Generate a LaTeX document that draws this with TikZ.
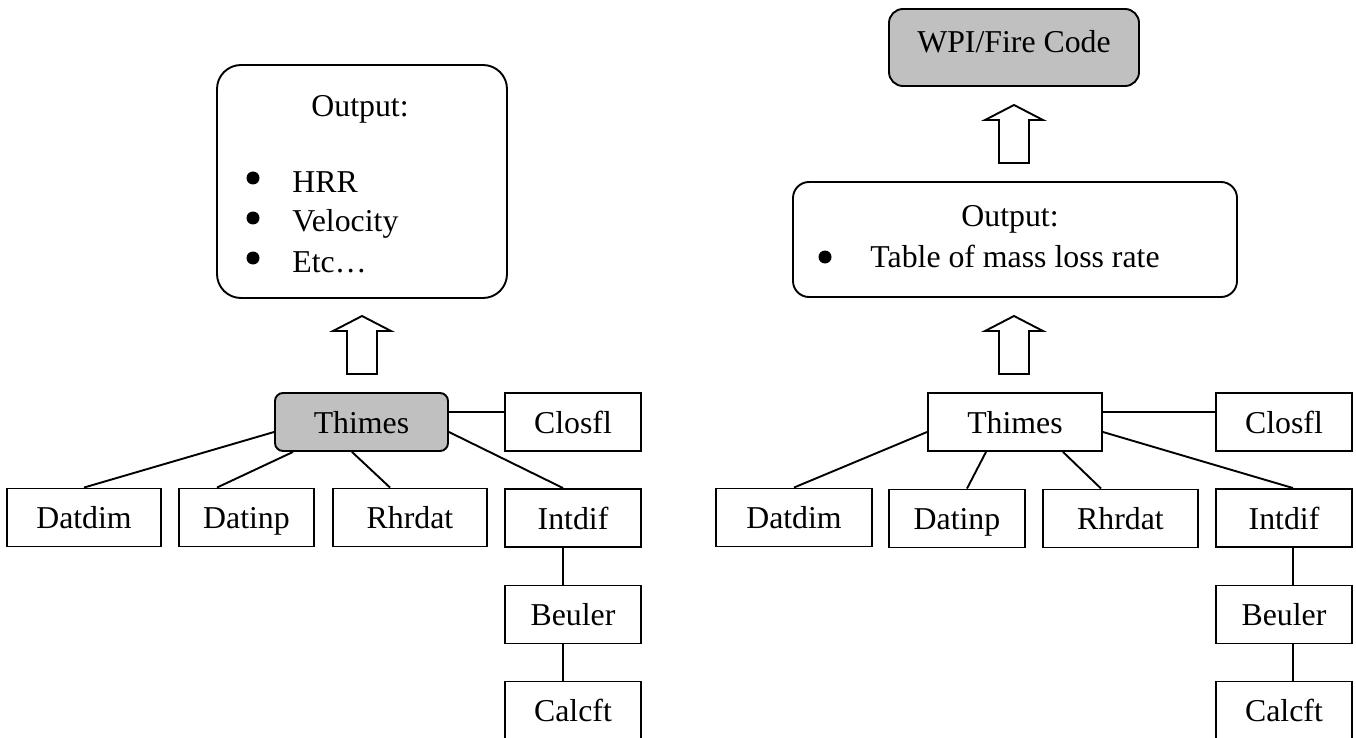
\documentclass[tikz,border=0pt]{standalone}
\usepackage{fontspec}
\setmainfont{Liberation Serif}
\newcommand\mainfs{\fontsize{15.9pt}{19pt}\selectfont}
\definecolor{boxgray}{HTML}{C0C0C0}
\tikzset{
  lw/.style={line width=0.95pt},
  box/.style={draw, lw, minimum height=29pt, inner sep=0pt, text height=11pt, text depth=0pt, font=\mainfs},
  grayfill/.style={fill=boxgray},
  outbox/.style={draw, lw, inner sep=0pt},
  txt/.style={inner sep=0pt, font=\mainfs},
  dot/.style={circle, fill=black, inner sep=0pt, minimum size=6.5pt},
  link/.style={lw},
  blockarrow/.style={draw, lw, fill=white, line join=miter},
}
\newcommand\blockarr[3]{% x, ytip, ybottom
  \draw[blockarrow] (#1,#2) -- (#1+29,#2+15) -- (#1+15,#2+15) -- (#1+15,#3) -- (#1-15,#3) -- (#1-15,#2+15) -- (#1-29,#2+15) -- cycle;}
\begin{document}
\begin{tikzpicture}[x=0.5pt,y=-0.5pt]
\useasboundingbox (0,0) rectangle (1356,738);
\clip (0,0) rectangle (1356,738);
% ---------- left ----------
\node[outbox, rounded corners=12pt, minimum width=145pt, minimum height=116.5pt] (outL) at (362,181.5) {};
\node[txt, anchor=base] (outLt) at (360,117) {Output:};
\node[dot] (bL1) at (253,178) {};
\node[dot] (bL2) at (253,218) {};
\node[dot] (bL3) at (253,258) {};
\node[txt, anchor=base west] (hrr) at (292,192) {HRR};
\node[txt, anchor=base west] (vel) at (292,232) {Velocity};
\node[txt, anchor=base west] (etc) at (292,272) {Etc…};
\blockarr{362}{316}{374}
\node[box, grayfill, rounded corners=4pt, minimum width=86.5pt] (thL) at (361.5,422) {Thimes};
\node[box, minimum width=68pt] (clL) at (573,422) {Closfl};
\node[box, minimum width=77pt] (datdimL) at (84,517.5) {Datdim\hspace{9pt}};
\node[box, minimum width=67.5pt] (datinpL) at (246.5,517.5) {Datinp};
\node[box, minimum width=77pt] (rhrdatL) at (410,517.5) {Rhrdat};
\node[box, minimum width=68pt] (intdifL) at (573,518) {Intdif};
\node[box, minimum width=68pt] (beulerL) at (573,614.5) {Beuler};
\node[box, minimum width=68pt] (calcftL) at (573,710.5) {Calcft};
\draw[link] ([yshift=5pt]thL.east) -- ([yshift=5pt]clL.west);
\draw[link] ([yshift=-5pt]thL.west) -- (datdimL.north);
\draw[link] ([xshift=-34.25pt]thL.south) -- ([xshift=-14.75pt]datinpL.north);
\draw[link] ([xshift=-4.75pt]thL.south) -- ([xshift=-10pt]rhrdatL.north);
\draw[link] ([yshift=-5pt]thL.east) -- ([xshift=-5pt]intdifL.north);
\draw[link] ([xshift=-5pt]intdifL.south) -- ([xshift=-5pt]beulerL.north);
\draw[link] ([xshift=-5pt]beulerL.south) -- ([xshift=-5pt]calcftL.north);
% ---------- right ----------
\node[box, grayfill, rounded corners=7pt, minimum width=125pt, minimum height=38.5pt, text depth=5.5pt] (wpi) at (1014,47.5) {WPI/Fire Code};
\blockarr{1014}{105}{163}
\node[outbox, rounded corners=8pt, minimum width=222pt, minimum height=57.5pt] (outR) at (1015,239.5) {};
\node[txt, anchor=base] (outRt) at (1010,227) {Output:};
\node[dot] (bR1) at (825,257) {};
\node[txt, anchor=base west] (tbl) at (870,267) {Table of mass loss rate};
\blockarr{1014}{316}{374}
\node[box, minimum width=87pt] (thR) at (1015,422) {Thimes};
\node[box, minimum width=68pt] (clR) at (1284,422) {Closfl};
\node[box, minimum width=78pt] (datdimR) at (794,517.5) {Datdim\hspace{9pt}};
\node[box, minimum width=68pt] (datinpR) at (957,518.5) {Datinp};
\node[box, minimum width=77.5pt] (rhrdatR) at (1120.5,518.5) {Rhrdat};
\node[box, minimum width=68pt] (intdifR) at (1284,518) {Intdif};
\node[box, minimum width=68pt] (beulerR) at (1284,614.5) {Beuler};
\node[box, minimum width=68pt] (calcftR) at (1284,710.5) {Calcft};
\draw[link] ([yshift=5pt]thR.east) -- ([yshift=5pt]clR.west);
\draw[link] ([yshift=-5pt]thR.west) -- (datdimR.north);
\draw[link] ([xshift=-14.5pt]thR.south) -- ([xshift=5pt]datinpR.north);
\draw[link] ([xshift=24pt]thR.south) -- ([xshift=-9.75pt]rhrdatR.north);
\draw[link] ([yshift=-5pt]thR.east) -- ([xshift=4.5pt]intdifR.north);
\draw[link] ([xshift=4.5pt]intdifR.south) -- ([xshift=4.5pt]beulerR.north);
\draw[link] ([xshift=4.5pt]beulerR.south) -- ([xshift=4.5pt]calcftR.north);
\end{tikzpicture}
\end{document}
